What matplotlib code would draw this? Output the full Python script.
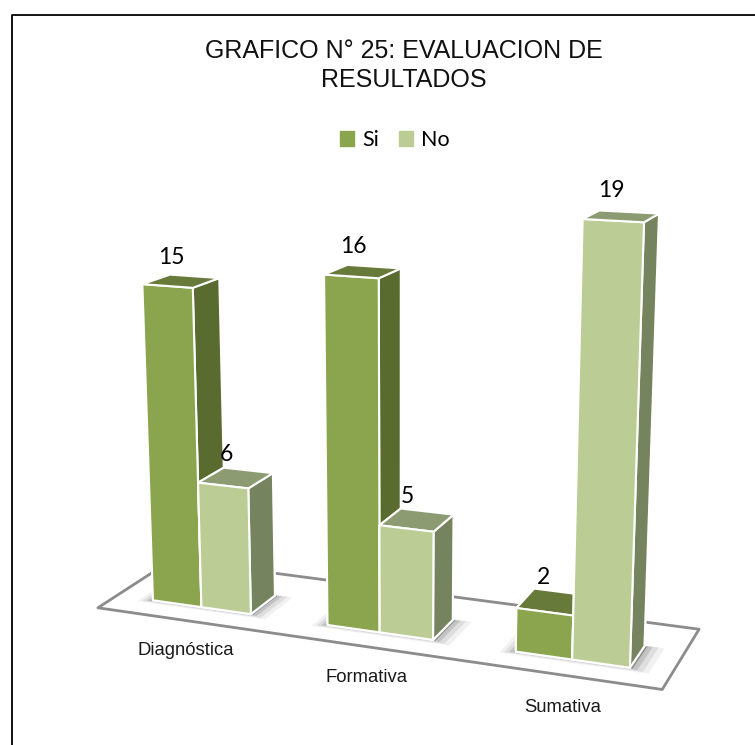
import matplotlib
matplotlib.use("Agg")
import matplotlib.pyplot as plt
from matplotlib.lines import Line2D
from matplotlib.patches import Patch
from mpl_toolkits.mplot3d.art3d import Poly3DCollection

categories = ["Diagnóstica", "Formativa", "Sumativa"]
si_values = [15, 16, 2]
no_values = [6, 5, 19]
series_names = ["Si", "No"]
title_text = "GRAFICO N° 25: EVALUACION DE\nRESULTADOS"

# bottom, top, front, back, left, right
SI_FACES = ["#5a6b30", "#687a3a", "#8aa54e", "#8aa54e", "#5a6b30", "#5a6b30"]
NO_FACES = ["#75835e", "#8d9b72", "#bbcd95", "#bbcd95", "#75835e", "#75835e"]
SI_COLOR, NO_COLOR = "#8aa54e", "#bbcd95"

BAR_W, BAR_D, Y0 = 0.285, 0.36, 0.24
X0 = 0.19
ZMAX = 22

fig = plt.figure(figsize=(7.55, 7.45), dpi=100)
ax = fig.add_axes([12 / 755, -21 / 745, 1, 1], projection="3d", computed_zorder=False)
ax.set_proj_type("persp", focal_length=0.45)
ax.view_init(elev=13.5, azim=-69, roll=0)
ax.set_box_aspect((3.0, 0.82, 2.48), zoom=1.044)
ax.set_axis_off()

# floor
floor = Poly3DCollection([[(-0.03, 0, 0), (2.96, 0, 0), (2.96, 1, 0), (-0.03, 1, 0)]],
                         facecolors="white", edgecolors="#8c8c8c",
                         linewidths=2, zorder=1)
ax.add_collection3d(floor)

# soft shadows around each group
z = 2
for i in range(len(categories)):
    for grow, a in ((0.10, 0.08), (0.07, 0.12), (0.04, 0.2), (0.015, 0.5)):
        x0, x1 = i + X0 - grow * 0.7, i + X0 + 2 * BAR_W + grow
        y0, y1 = Y0 - grow * 0.5, Y0 + BAR_D + grow * 0.1
        ax.add_collection3d(Poly3DCollection(
            [[(x0, y0, 0), (x1, y0, 0), (x1, y1, 0), (x0, y1, 0)]],
            facecolors=(0.35, 0.35, 0.35, a), edgecolors="none", zorder=z))
        z += 1

# bars, back-to-front for the camera on the +x side
for i in range(len(categories)):
    for j, (vals, faces) in enumerate(((si_values, SI_FACES), (no_values, NO_FACES))):
        ax.bar3d(i + X0 + j * BAR_W, Y0, 0, BAR_W, BAR_D, vals[i],
                 color=faces, edgecolor="white", linewidth=1.5,
                 shade=False, zorder=20 + 2 * i * 10 + j)
        ax.text(i + X0 + (j + 0.5) * BAR_W - 0.05, Y0 + BAR_D / 2, vals[i] + 1.05,
                str(vals[i]), ha="center", va="center", fontsize=16.5,
                family="Lato", color="black", zorder=100)
    ax.text(i + 0.49, -0.02, -1.4, categories[i], ha="center", va="center",
            fontsize=13.3, family="Liberation Sans", color="#1a1a1a", zorder=100)

ax.set_xlim(0, 3)
ax.set_ylim(0, 1)
ax.set_zlim(0, ZMAX)

fig.text(404 / 755, 1 - 65.5 / 745, title_text, ha="center", va="center",
         fontsize=18, family="Liberation Sans", linespacing=1.22, color="#111111")

fig.legend(handles=[Patch(color=SI_COLOR, label=series_names[0]),
                    Patch(color=NO_COLOR, label=series_names[1])],
           loc="center", bbox_to_anchor=(395 / 755, 1 - 140 / 745), ncol=2,
           frameon=False, prop={"family": "Lato", "size": 15.5},
           handlelength=0.65, handleheight=0.75, handletextpad=0.4, columnspacing=0.9)

# outer frame (top and left only reach the image)
fig.add_artist(Line2D([12 / 755, 12 / 755, 1], [0, 1 - 14.5 / 745, 1 - 14.5 / 745],
                      color="black", lw=1.3, transform=fig.transFigure))

fig.savefig("out.png", dpi=100, facecolor="white")
